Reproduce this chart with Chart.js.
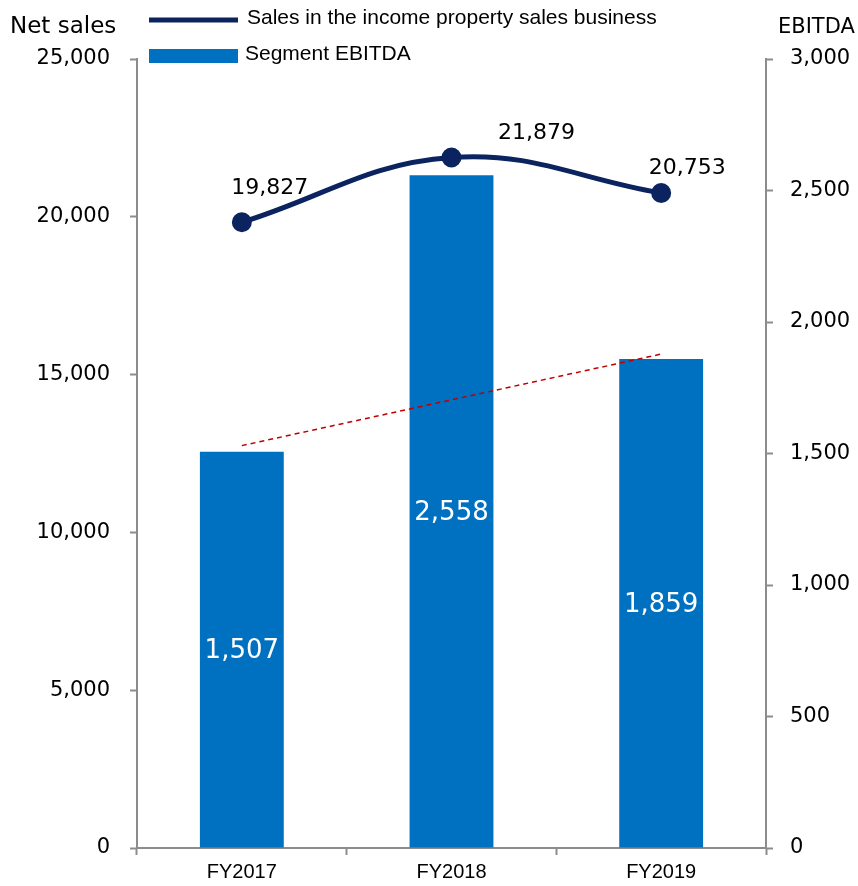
<!DOCTYPE html>
<html>
<head>
<meta charset="utf-8">
<script src="https://cdn.jsdelivr.net/npm/chart.js@4.4.0/dist/chart.umd.min.js"></script>
<style>
  body { margin: 0; background: #fff; }
  #wrap { width: 858px; height: 886px; }
</style>
</head>
<body>
<div id="wrap"><canvas id="mycanvas" width="858" height="886"></canvas></div>
<script>
// data
var years = ['FY2017', 'FY2018', 'FY2019'];
var netSales = [19827, 21879, 20753];      // left axis
var ebitda = [1507, 2558, 1859];           // right axis
var trend = [1530, null, 1878];            // red dashed line (right axis)
var salesTicks = [0, 5000, 10000, 15000, 20000, 25000];
var ebitdaTicks = [0, 500, 1000, 1500, 2000, 2500, 3000];

var navy = '#0B2460';
var blue = '#0070C0';
var axisGray = '#8C8C8C';

function fmt(v){ return Number(v).toLocaleString('en-US'); }

// where the line labels sit relative to their point
var lineLabelShift = [[28, -34], [85, -24], [26, -25]];

var labelsPlugin = {
	id: 'labels',
	afterDatasetsDraw: function(chart){
		var ctx = chart.ctx;
		ctx.save();
		// bar values, white, in the middle of each bar
		var barMeta = chart.getDatasetMeta(2);
		ctx.fillStyle = '#fff';
		ctx.font = '26px "DejaVu Sans"';
		ctx.textAlign = 'center';
		ctx.textBaseline = 'middle';
		barMeta.data.forEach(function(b, i){
			ctx.fillText(fmt(ebitda[i]), b.x, (b.y + b.base) / 2 + 2);
		});
		// line values
		var lineMeta = chart.getDatasetMeta(0);
		ctx.fillStyle = '#000';
		ctx.font = '22px "DejaVu Sans"';
		lineMeta.data.forEach(function(p, i){
			ctx.fillText(fmt(netSales[i]), p.x + lineLabelShift[i][0], p.y + lineLabelShift[i][1]);
		});
		ctx.restore();
	},
	afterDraw: function(chart){
		var ctx = chart.ctx;
		ctx.save();
		ctx.textBaseline = 'middle';
		ctx.fillStyle = '#000';
		// axis titles
		ctx.font = '23px "DejaVu Sans"';
		ctx.textAlign = 'left';
		ctx.fillText('Net sales', 10, 27);
		ctx.font = '21px "DejaVu Sans"';
		ctx.fillText('EBITDA', 778, 28);
		// legend
		ctx.strokeStyle = navy;
		ctx.lineWidth = 5;
		ctx.beginPath();
		ctx.moveTo(149, 20);
		ctx.lineTo(238, 20);
		ctx.stroke();
		ctx.fillStyle = blue;
		ctx.fillRect(149, 49, 89, 14);
		ctx.fillStyle = '#000';
		ctx.font = '21px "Liberation Sans"';
		ctx.fillText('Sales in the income property sales business', 247, 18);
		ctx.fillText('Segment EBITDA', 245, 54);
		ctx.restore();
	}
};

var ctx = document.getElementById('mycanvas');
var chart = new Chart(ctx, {
	data: {
		labels: years,
		datasets: [{
			type: 'line',
			label: 'Sales in the income property sales business',
			data: netSales,
			yAxisID: 'y',
			borderColor: navy,
			backgroundColor: navy,
			borderWidth: 5,
			tension: 0.4,
			pointRadius: 7.5,
			pointBackgroundColor: navy,
			pointBorderColor: navy,
			order: 1
		}, {
			type: 'line',
			label: 'trend',
			data: trend,
			yAxisID: 'y1',
			spanGaps: true,
			borderColor: '#C00000',
			borderWidth: 1.5,
			borderDash: [5, 4],
			tension: 0,
			pointRadius: 0,
			order: 2
		}, {
			type: 'bar',
			label: 'Segment EBITDA',
			data: ebitda,
			yAxisID: 'y1',
			backgroundColor: blue,
			barPercentage: 0.4,
			categoryPercentage: 1,
			order: 3
		}]
	},
	options: {
		responsive: false,
		animation: false,
		layout: { padding: { top: 59, left: 0, right: 0, bottom: 0 } },
		plugins: {
			legend: { display: false },
			tooltip: { enabled: false }
		},
		scales: {
			x: {
				grid: { display: true, drawOnChartArea: false, tickLength: 7, tickColor: axisGray, tickWidth: 2, offset: true },
				border: { color: axisGray, width: 2 },
				ticks: { color: '#000', padding: 5, font: { family: '"Liberation Sans"', size: 20 } },
				afterFit: function(s){ s.height = 38; }
			},
			y: {
				position: 'left',
				min: 0, max: 25000,
				afterBuildTicks: function(s){ s.ticks = salesTicks.map(function(v){ return { value: v }; }); },
				ticks: { color: '#000', padding: 20, font: { family: 'DejaVu Sans', size: 21 }, callback: function(v){ return fmt(v); } },
				grid: { drawOnChartArea: false, tickLength: 7, tickColor: axisGray, tickWidth: 2 },
				border: { color: axisGray, width: 2 },
				afterFit: function(s){ s.width = 137; }
			},
			y1: {
				position: 'right',
				min: 0, max: 3000,
				afterBuildTicks: function(s){ s.ticks = ebitdaTicks.map(function(v){ return { value: v }; }); },
				ticks: { color: '#000', padding: 17, font: { family: 'DejaVu Sans', size: 21 }, callback: function(v){ return fmt(v); } },
				grid: { drawOnChartArea: false, tickLength: 7, tickColor: axisGray, tickWidth: 2 },
				border: { color: axisGray, width: 2 },
				afterFit: function(s){ s.width = 92; }
			}
		}
	},
	plugins: [labelsPlugin]
});
</script>
</body>
</html>
